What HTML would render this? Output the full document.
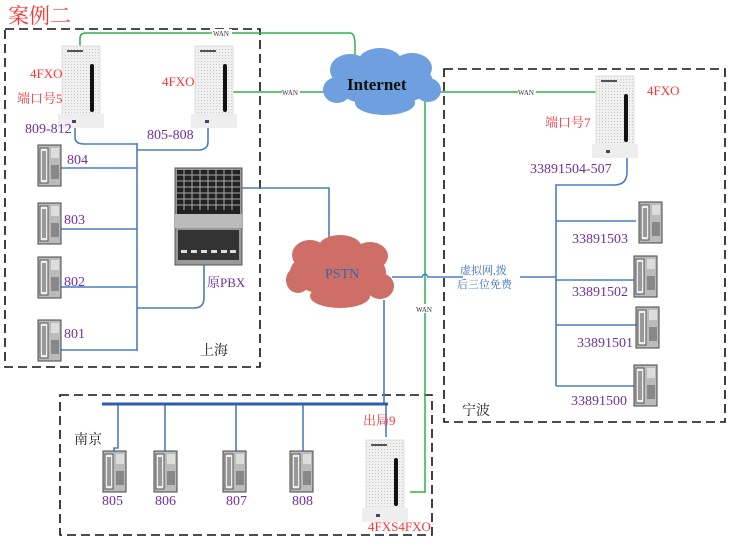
<!DOCTYPE html>
<html><head><meta charset="utf-8"><style>
html,body{margin:0;padding:0;background:#fff;}
svg text{font-family:"Liberation Serif","Noto Serif CJK SC",serif;}
</style></head><body>
<svg width="730" height="543" viewBox="0 0 730 543" xmlns="http://www.w3.org/2000/svg">
<defs>
<pattern id="dots" width="3" height="3" patternUnits="userSpaceOnUse"><rect width="3" height="3" fill="#f0f0f0"/><rect width="1" height="1" fill="#c8c8c8"/></pattern>
<g id="modem">
 <rect x="0" y="0" width="38" height="72" fill="url(#dots)" stroke="#e0e0e0"/>
 <rect x="28" y="18" width="4" height="48" rx="2" fill="#111"/>
 <rect x="5" y="4" width="16" height="2" fill="#555"/>
 <rect x="-4" y="68" width="46" height="14" fill="#eee"/>
 <rect x="10" y="74" width="4" height="3" fill="#446"/>
</g>
<g id="phone">
 <rect x="0" y="0" width="23" height="41" fill="#bbb" stroke="#444"/>
 <rect x="2" y="3" width="8" height="35" fill="#eee" stroke="#555"/>
 <rect x="4" y="6" width="4" height="29" fill="#999"/>
 <rect x="13" y="3" width="8" height="10" fill="#ddd"/>
 <rect x="13" y="20" width="8" height="14" fill="#888"/>
</g>
</defs>
<text x="8" y="23" font-size="21" fill="#f33" font-family="Liberation Sans,Noto Sans CJK SC,sans-serif">案例二</text>
<g fill="none" stroke="#111" stroke-width="1.6" stroke-dasharray="9,5">
<rect x="5" y="29" width="255" height="338"/>
<rect x="444" y="69" width="281" height="353"/>
<rect x="60" y="395" width="372" height="140"/>
</g>
<g fill="none" stroke="#2eb24a" stroke-width="1.5">
<path d="M80 47 V38 Q80 33 86 33 H350 Q355 33 355 45 V55"/>
<path d="M233 92 H328"/>
<path d="M438 92 H597"/>
<path d="M425 100 V492 H410"/>
</g>
<g font-size="7" fill="#333" font-family="Liberation Serif,serif">
<rect x="212" y="29" width="20" height="8" fill="#fff"/><text x="213" y="36">WAN</text>
<rect x="282" y="88" width="18" height="8" fill="#fff"/><text x="282" y="95">WAN</text>
<rect x="518" y="88" width="18" height="8" fill="#fff"/><text x="518" y="95">WAN</text>
<rect x="415" y="304" width="18" height="9" fill="#fff"/><text x="416" y="312">WAN</text>
</g>
<g fill="none" stroke="#4a7cc8" stroke-width="1.6">
<path d="M75 127 V137 Q75 144 84 144 H137"/>
<path d="M208 128 V142 Q208 150 198 150 H137"/>
<path d="M137 143 V351"/>
<path d="M61 168 H137 M61 229 H137 M61 287 H137 M61 350 H137"/>
<path d="M204 265 V298 Q204 308 194 308 H137"/>
<path d="M242 188 H329 V245"/>
<path d="M392 277 H422 Q425 271 428 277 H463 M520 277 H556"/>
<path d="M627 157 V172 Q627 185 614 185 H556 V386"/>
<path d="M556 221 H636 M556 280 H636 M556 325 H636 M556 386 H636"/>
<path d="M384 300 V404"/>
<path d="M386 404 V437"/>
<path d="M118 404 V448 H114 V452 M165 404 V452 M236 404 V452 M303 404 V452"/>
</g>
<path d="M102 404 H388" stroke="#2f5da8" stroke-width="3"/>
<g fill="#6e9fde">
<ellipse cx="383" cy="82" rx="50" ry="24"/><ellipse cx="350" cy="70" rx="20" ry="16"/><ellipse cx="380" cy="62" rx="22" ry="14"/><ellipse cx="412" cy="68" rx="20" ry="15"/><ellipse cx="337" cy="90" rx="14" ry="13"/><ellipse cx="428" cy="90" rx="13" ry="12"/><ellipse cx="385" cy="103" rx="30" ry="12"/>
</g>
<text x="347" y="90" font-size="17" font-weight="bold" fill="#111" font-family="Liberation Sans,sans-serif">Internet</text>
<g fill="#cd6f67">
<ellipse cx="338" cy="272" rx="48" ry="24"/><ellipse cx="310" cy="255" rx="18" ry="15"/><ellipse cx="340" cy="248" rx="22" ry="13"/><ellipse cx="370" cy="256" rx="18" ry="14"/><ellipse cx="298" cy="280" rx="12" ry="13"/><ellipse cx="380" cy="286" rx="14" ry="13"/><ellipse cx="340" cy="296" rx="30" ry="12"/>
</g>
<text x="325" y="278" font-size="14" fill="#3565b0">PSTN</text>
<rect x="463" y="262" width="57" height="26" fill="#fff"/>
<text x="460" y="274" font-size="11" fill="#3c6fbf" font-family="Liberation Sans,Noto Sans CJK SC,sans-serif">虚拟网,拨</text>
<text x="457" y="288" font-size="11" fill="#3c6fbf" font-family="Liberation Sans,Noto Sans CJK SC,sans-serif">后三位免费</text>
<rect x="175" y="168" width="67" height="97" fill="#999" stroke="#555"/>
<rect x="177" y="170" width="63" height="44" fill="#222"/>
<g stroke="#aaa" stroke-width="1"><path d="M177 175 H240 M177 181 H240 M177 187 H240 M177 193 H240 M177 199 H240 M177 205 H240"/><path d="M184 170 V210 M192 170 V210 M200 170 V210 M208 170 V210 M216 170 V210 M224 170 V210 M232 170 V210"/></g>
<rect x="175" y="214" width="67" height="14" fill="#bbb"/>
<rect x="178" y="230" width="61" height="30" fill="#333"/>
<g fill="#ddd"><rect x="181" y="250" width="6" height="3"/><rect x="191" y="250" width="6" height="3"/><rect x="201" y="250" width="6" height="3"/><rect x="211" y="250" width="6" height="3"/><rect x="221" y="250" width="6" height="3"/><rect x="230" y="250" width="6" height="3"/></g>
<use href="#modem" x="62" y="46"/>
<use href="#modem" x="195" y="46"/>
<use href="#modem" x="596" y="76"/>
<use href="#modem" x="366" y="440"/>
<use href="#phone" x="38" y="145"/><use href="#phone" x="38" y="203"/><use href="#phone" x="38" y="257"/><use href="#phone" x="38" y="320"/>
<use href="#phone" x="639" y="202"/><use href="#phone" x="634" y="256"/><use href="#phone" x="636" y="307"/><use href="#phone" x="634" y="365"/>
<use href="#phone" x="103" y="451"/><use href="#phone" x="154" y="451"/><use href="#phone" x="223" y="451"/><use href="#phone" x="290" y="451"/>
<g fill="#f33" font-size="13">
<text x="30" y="78">4FXO</text>
<text x="17" y="103" font-family="Liberation Serif,Noto Sans CJK SC,serif">端口号5</text>
<text x="162" y="86">4FXO</text>
<text x="647" y="95">4FXO</text>
<text x="545" y="127" font-family="Liberation Serif,Noto Sans CJK SC,serif">端口号7</text>
<text x="363" y="425" font-family="Liberation Serif,Noto Sans CJK SC,serif">出局9</text>
<text x="368" y="531">4FXS4FXO</text>
</g>
<g fill="#7030a0" font-size="14" font-family="Liberation Sans,sans-serif">
<text x="25" y="133">809-812</text>
<text x="147" y="139">805-808</text>
<text x="67" y="164">804</text><text x="64" y="224">803</text><text x="64" y="286">802</text><text x="64" y="338">801</text>
<text x="530" y="173">33891504-507</text>
<text x="572" y="243">33891503</text><text x="572" y="296">33891502</text><text x="577" y="347">33891501</text><text x="571" y="405">33891500</text>
<text x="102" y="505">805</text><text x="155" y="505">806</text><text x="226" y="505">807</text><text x="292" y="505">808</text>
<text x="207" y="287" font-size="13" font-family="Liberation Serif,Noto Sans CJK SC,serif">原PBX</text>
</g>
<g fill="#222" font-size="14" font-family="Liberation Serif,Noto Serif CJK SC,serif">
<text x="200" y="355">上海</text>
<text x="462" y="415">宁波</text>
<text x="74" y="444">南京</text>
</g>
</svg>
</body></html>
